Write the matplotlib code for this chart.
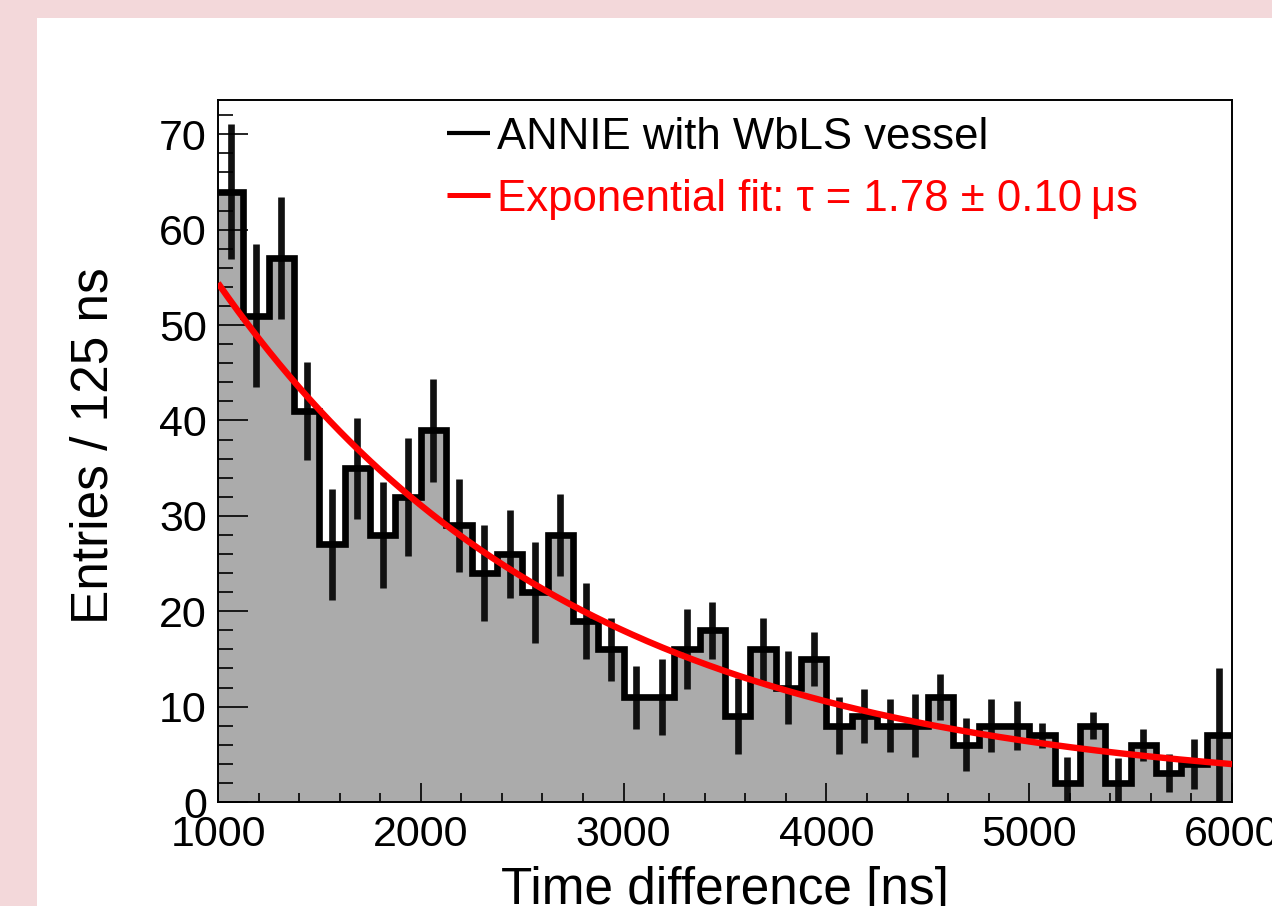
import numpy as np
import matplotlib
matplotlib.use("Agg")
import matplotlib.pyplot as plt
from matplotlib.patches import Rectangle
from matplotlib.ticker import MultipleLocator

plt.rcParams['font.family'] = ['Liberation Sans', 'DejaVu Sans']

# Histogram: time difference, 125 ns bins from 1000 to 6000 ns
bin_lo = 1000
bin_hi = 6000
bin_width = 125
counts = [64, 51, 57, 41, 27, 35, 28, 32, 39, 29,
          24, 26, 22, 28, 19, 16, 11, 11, 16, 18,
          9, 16, 12, 15, 8, 9, 8, 8, 11, 6,
          8, 8, 7, 2, 8, 2, 6, 3, 4, 7]
errors = [7.1, 7.5, 6.4, 5.1, 5.8, 5.3, 5.6, 6.2, 5.4, 4.9,
          5.0, 4.6, 5.3, 4.3, 4.0, 3.3, 3.3, 4.0, 4.2, 3.0,
          4.0, 3.3, 3.8, 2.8, 3.0, 2.8, 2.8, 3.3, 2.4, 2.8,
          2.8, 2.6, 1.3, 2.7, 1.4, 2.6, 1.7, 2.0, 2.6, 7.0]

# exponential fit curve parameters (as drawn)
fit_amp = 53.5
fit_tau_ns = 1750.0
fit_const = 0.9

x_ticks = [1000, 2000, 3000, 4000, 5000, 6000]
y_ticks = [0, 10, 20, 30, 40, 50, 60, 70]

# colours
c_pink = '#f3d8da'
c_fill = '#ababab'

W, H = 1272, 906
fig = plt.figure(figsize=(W / 100, H / 100), dpi=100)
fig.patch.set_facecolor('white')

# slide background strips (top and left)
fig.add_artist(Rectangle((0, 1 - 18 / H), 1, 18 / H, transform=fig.transFigure,
                         facecolor=c_pink, edgecolor='none', zorder=0))
fig.add_artist(Rectangle((0, 0), 37 / W, 1, transform=fig.transFigure,
                         facecolor=c_pink, edgecolor='none', zorder=0))

ax = fig.add_axes([218 / W, 1 - 802 / H, 1014 / W, 702 / H])
ax.set_facecolor('white')

edges = np.arange(bin_lo, bin_hi + bin_width, bin_width)
centers = edges[:-1] + bin_width / 2

ax.stairs(counts, edges, fill=True, color=c_fill, zorder=1)
ax.errorbar(centers, counts, yerr=errors, fmt='none', ecolor='#111111',
            elinewidth=4.8, capsize=0, zorder=2)
ax.stairs(counts, edges, baseline=None, color='black', lw=4.8, zorder=3,
          joinstyle='miter')

t = np.linspace(bin_lo, bin_hi, 400)
fit = fit_amp * np.exp(-(t - bin_lo) / fit_tau_ns) + fit_const
ax.plot(t, fit, color='#ff0000', lw=4.6, zorder=4, solid_capstyle='butt')

ax.set_xlim(bin_lo, bin_hi)
ax.set_ylim(0, 73.6)
ax.set_xticks(x_ticks)
ax.set_yticks(y_ticks)
ax.xaxis.set_minor_locator(MultipleLocator(200))
ax.yaxis.set_minor_locator(MultipleLocator(2))
ax.set_axisbelow(False)

for s in ax.spines.values():
    s.set_linewidth(1.4)

ax.tick_params(axis='both', which='both', direction='in', top=False, right=False,
               width=1.2, labelsize=31)
ax.tick_params(axis='y', which='major', length=21.6, pad=8)
ax.tick_params(axis='y', which='minor', length=10.8)
ax.tick_params(axis='x', which='major', length=13.7, pad=9)
ax.tick_params(axis='x', which='minor', length=6.5)

# axis titles
fig.text(94 / W, 1 - 446 / H, 'Entries / 125 ns', rotation=90,
         ha='center', va='center', fontsize=37)
fig.text(725 / W, 1 - 904 / H, 'Time difference [ns]',
         ha='center', va='baseline', fontsize=37)

# legend, drawn by hand in axes coordinates
def px_x(px):
    return (px - 218) / 1014

def px_y(py):
    return (802 - py) / 702

ax.plot([px_x(447), px_x(490)], [px_y(133), px_y(133)], color='black', lw=3.0,
        transform=ax.transAxes, solid_capstyle='butt', zorder=5)
ax.text(px_x(497), px_y(149), 'ANNIE with WbLS vessel', transform=ax.transAxes,
        fontsize=31.5, color='black', ha='left', va='baseline')
ax.plot([px_x(447), px_x(490)], [px_y(195), px_y(195)], color='#ff0000', lw=3.6,
        transform=ax.transAxes, solid_capstyle='butt', zorder=5)
ax.text(px_x(497), px_y(211), 'Exponential fit: \u03c4 = 1.78 \u00b1 0.10\u2009\u03bcs',
        transform=ax.transAxes, fontsize=31.5, color='#ff0000', ha='left', va='baseline')

fig.savefig('out.png', dpi=100)
